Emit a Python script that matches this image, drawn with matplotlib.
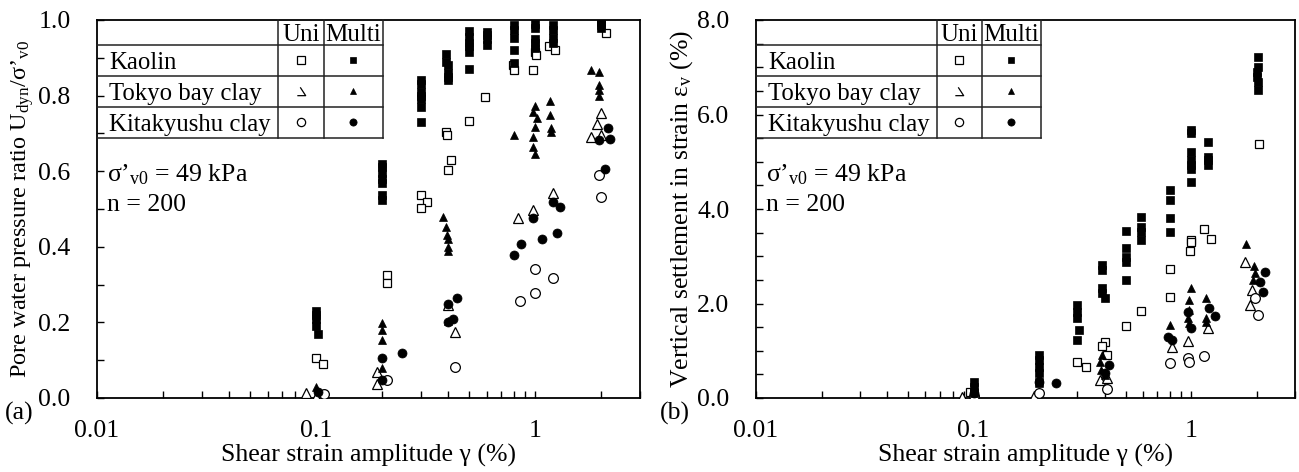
import matplotlib
matplotlib.use("Agg")
import matplotlib.pyplot as plt
from matplotlib.path import Path
from matplotlib.ticker import LogLocator, NullFormatter, FixedLocator, MultipleLocator

plt.rcParams['font.family'] = ['Liberation Serif', 'DejaVu Serif']
plt.rcParams['mathtext.fontset'] = 'custom'
plt.rcParams['mathtext.rm'] = 'Liberation Serif'
plt.rcParams['mathtext.it'] = 'Liberation Serif:italic'
FS = 18.5

# ---- (a) pore water pressure ratio ----
a_kao_multi_x = [0.1, 0.1, 0.1, 0.1, 0.102,
                 0.2, 0.2, 0.2, 0.2, 0.2, 0.2, 0.2,
                 0.3, 0.3, 0.3, 0.3, 0.3, 0.3, 0.3,
                 0.39, 0.39, 0.4, 0.4, 0.4, 0.4,
                 0.5, 0.5, 0.5, 0.5, 0.5, 0.5,
                 0.6, 0.6, 0.6, 0.6,
                 0.8, 0.8, 0.8, 0.8, 0.8,
                 1.0, 1.0, 1.0, 1.0, 1.0,
                 1.2, 1.2, 1.2, 1.2,
                 2.0, 2.0, 2.0, 2.0]
a_kao_multi_y = [0.23, 0.22, 0.21, 0.19, 0.17,
                 0.62, 0.61, 0.595, 0.58, 0.57, 0.537, 0.524,
                 0.84, 0.83, 0.81, 0.80, 0.79, 0.77, 0.73,
                 0.91, 0.89, 0.88, 0.86, 0.85, 0.84,
                 0.97, 0.955, 0.94, 0.93, 0.915, 0.87,
                 0.968, 0.96, 0.95, 0.934,
                 0.987, 0.974, 0.952, 0.92, 0.886,
                 0.99, 0.98, 0.95, 0.94, 0.926,
                 0.987, 0.974, 0.952, 0.94,
                 1.0, 0.995, 0.987, 0.98]
a_kao_uni_x = [0.1, 0.107, 0.21, 0.21, 0.3, 0.32, 0.3, 0.39, 0.395, 0.41, 0.4,
               0.5, 0.59, 0.79, 0.8, 0.98, 1.0, 1.01, 1.15, 1.23, 2.1]
a_kao_uni_y = [0.105, 0.09, 0.325, 0.304, 0.537, 0.518, 0.503, 0.704, 0.696, 0.63, 0.603,
               0.733, 0.796, 0.88, 0.868, 0.868, 0.915, 0.907, 0.93, 0.92, 0.965]
a_tok_multi_x = [0.1, 0.2, 0.2, 0.2, 0.2, 0.38, 0.39, 0.395, 0.4, 0.4, 0.4, 0.4,
                 0.8, 1.0, 0.98, 1.02, 1.0, 0.98, 0.98, 1.0,
                 1.17, 1.17, 1.18, 1.18, 1.8, 1.96, 1.96, 1.96, 1.96]
a_tok_multi_y = [0.03, 0.198, 0.18, 0.153, 0.079, 0.478, 0.452, 0.43, 0.42, 0.40, 0.39, 0.205,
                 0.696, 0.772, 0.757, 0.741, 0.717, 0.69, 0.664, 0.645,
                 0.786, 0.749, 0.714, 0.704, 0.868, 0.862, 0.828, 0.815, 0.80]
a_tok_uni_x = [0.09, 0.1, 0.19, 0.19, 0.4, 0.43, 0.83, 0.97, 1.2, 2.0, 1.9, 1.8, 2.0]
a_tok_uni_y = [0.013, 0.003, 0.068, 0.037, 0.245, 0.175, 0.476, 0.497, 0.542, 0.754, 0.725, 0.69, 0.696]
a_kit_multi_x = [0.102, 0.2, 0.2, 0.245, 0.4, 0.44, 0.42, 0.4, 0.8, 0.86, 0.97, 1.07,
                 1.2, 1.25, 1.29, 2.15, 1.96, 2.2, 2.07]
a_kit_multi_y = [0.016, 0.106, 0.048, 0.119, 0.25, 0.265, 0.21, 0.2, 0.378, 0.407, 0.476, 0.42,
                 0.518, 0.437, 0.505, 0.714, 0.683, 0.685, 0.606]
a_kit_uni_x = [0.109, 0.21, 0.43, 0.85, 1.0, 1.0, 1.2, 1.94, 2.0]
a_kit_uni_y = [0.01, 0.048, 0.082, 0.257, 0.278, 0.341, 0.318, 0.59, 0.532]

# ---- (b) vertical settlement ----
b_kao_multi_x = [0.1, 0.1, 0.1, 0.2, 0.2, 0.2, 0.2, 0.2,
                 0.3, 0.3, 0.3, 0.305, 0.3, 0.39, 0.39, 0.39, 0.39, 0.4,
                 0.5, 0.5, 0.5, 0.5, 0.5, 0.59, 0.59, 0.59, 0.59,
                 0.8, 0.8, 0.8, 0.8, 1.0, 1.0, 1.0, 1.0, 1.0, 1.0, 1.0,
                 1.2, 1.2, 1.2, 1.2, 2.02, 2.02, 2.0, 2.0, 2.02, 2.03]
b_kao_multi_y = [0.34, 0.23, 0.1, 0.91, 0.80, 0.66, 0.53, 0.34,
                 1.97, 1.82, 1.69, 1.44, 1.23, 2.81, 2.71, 2.33, 2.22, 2.12,
                 3.53, 3.17, 2.98, 2.88, 2.5, 3.83, 3.62, 3.51, 3.34,
                 4.4, 4.19, 3.81, 3.51, 5.67, 5.6, 5.2, 5.04, 4.93, 4.85, 4.57,
                 5.42, 5.1, 5.04, 4.93, 7.22, 7.0, 6.9, 6.79, 6.69, 6.52]
b_kao_uni_x = [0.096, 0.3, 0.33, 0.4, 0.39, 0.41, 0.5, 0.59, 0.8, 0.8, 1.0, 1.0, 0.99,
               1.15, 1.23, 2.04]
b_kao_uni_y = [0.13, 0.76, 0.66, 1.18, 1.1, 0.91, 1.52, 1.84, 2.73, 2.14, 3.34, 3.3, 3.11,
               3.58, 3.36, 5.38]
b_tok_multi_x = [0.1, 0.1, 0.2, 0.2, 0.39, 0.38, 0.385, 0.4, 0.8, 1.0, 0.98, 0.98, 0.97, 0.98,
                 1.17, 1.17, 1.17, 1.78, 1.94, 1.96, 1.92]
b_tok_multi_y = [0.28, 0.17, 0.44, 0.32, 0.91, 0.76, 0.59, 0.49, 1.55, 2.33, 2.07, 1.86, 1.69, 1.59,
                 2.12, 1.69, 1.61, 3.26, 2.79, 2.64, 2.5]
b_tok_uni_x = [0.088, 0.19, 0.38, 0.41, 0.82, 0.97, 1.2, 1.76, 1.9, 1.86]
b_tok_uni_y = [0.02, 0.04, 0.38, 0.42, 1.08, 1.21, 1.48, 2.88, 2.29, 1.97]
b_kit_multi_x = [0.1, 0.2, 0.24, 0.4, 0.42, 0.78, 0.82, 0.97, 1.0, 1.21, 1.29, 2.07, 2.13, 2.18]
b_kit_multi_y = [0.1, 0.34, 0.32, 0.53, 0.7, 1.29, 1.23, 1.82, 1.48, 1.9, 1.74, 2.45, 2.24, 2.67]
b_kit_uni_x = [0.1, 0.2, 0.41, 0.8, 0.97, 0.98, 1.15, 1.96, 2.02]
b_kit_uni_y = [0.04, 0.1, 0.19, 0.74, 0.85, 0.76, 0.89, 2.12, 1.76]

soils = ["Kaolin", "Tokyo bay clay", "Kitakyushu clay"]

# odd broken-triangle glyph used in the legend table
broken_tri = Path([(-0.15, 0.5), (0.5, -0.5), (-0.5, -0.5)],
                  [Path.MOVETO, Path.LINETO, Path.LINETO])

sty_uni = [dict(marker='s', ms=6.0, mfc='white', mec='k', mew=0.9),
           dict(marker='^', ms=7.0, mfc='white', mec='k', mew=0.9),
           dict(marker='o', ms=7.0, mfc='white', mec='k', mew=0.9)]
sty_multi = [dict(marker='s', ms=5.2, mfc='k', mec='k', mew=0.5),
             dict(marker='^', ms=6.2, mfc='k', mec='k', mew=0.5),
             dict(marker='o', ms=6.5, mfc='k', mec='k', mew=0.5)]

fig = plt.figure(figsize=(12.99, 4.72), dpi=100)
axa = fig.add_axes([97/1299, 74/472, 543/1299, 378/472])
axb = fig.add_axes([756/1299, 74/472, 539/1299, 378/472])


def draw_panel(ax, series, ymax, ystep, yminor, yfmt, ylabel, ylabel_fs, cols):
    for (ux, uy, mx, my), su, sm in zip(series, sty_uni, sty_multi):
        ax.plot(ux, uy, ls='none', zorder=3, **su)
        ax.plot(mx, my, ls='none', zorder=4, **sm)
    ax.set_xscale('log')
    ax.set_xlim(0.01, 3)
    ax.set_ylim(0, ymax)
    ax.xaxis.set_major_locator(FixedLocator([0.01, 0.1, 1]))
    ax.xaxis.set_major_formatter(plt.FixedFormatter(['0.01', '0.1', '1']))
    ax.xaxis.set_minor_locator(LogLocator(base=10, subs=range(2, 10)))
    ax.xaxis.set_minor_formatter(NullFormatter())
    ticks = [i * ystep for i in range(int(round(ymax / ystep)) + 1)]
    ax.yaxis.set_major_locator(FixedLocator(ticks))
    ax.yaxis.set_major_formatter(plt.FixedFormatter([yfmt % t for t in ticks]))
    ax.yaxis.set_minor_locator(MultipleLocator(yminor))
    ax.tick_params(which='both', direction='in', top=False, right=False,
                   labelsize=FS, length=5, width=1.0, colors='k')
    ax.tick_params(axis='x', pad=16)
    ax.tick_params(axis='y', pad=19)
    for s in ax.spines.values():
        s.set_linewidth(1.3)
    ax.set_xlabel("Shear strain amplitude γ (%)", fontsize=FS)
    ax.xaxis.set_label_coords(0.5, -0.122)
    ax.set_ylabel(ylabel, fontsize=ylabel_fs)
    ax.yaxis.set_label_coords(-0.113, 0.5)

    # legend table
    c1, c2, c3 = cols
    rows = [1.0, 0.934, 0.852, 0.770, 0.688]
    kw = dict(transform=ax.transAxes, color='#222222', lw=1.1, clip_on=False, zorder=5)
    for r in rows[1:]:
        ax.plot([0, c3], [r, r], **kw)
    for c in (c1, c2, c3):
        ax.plot([c, c], [rows[0], rows[-1]], **kw)
    ax.text((c1 + c2) / 2, (rows[0] + rows[1]) / 2, "Uni", transform=ax.transAxes,
            ha='center', va='center_baseline', fontsize=FS - 0.5)
    ax.text((c2 + c3) / 2, (rows[0] + rows[1]) / 2, "Multi", transform=ax.transAxes,
            ha='center', va='center_baseline', fontsize=FS - 0.5)
    for i, name in enumerate(soils):
        yc = (rows[i + 1] + rows[i + 2]) / 2
        ax.text(0.022, yc, name, transform=ax.transAxes, ha='left',
                va='center_baseline', fontsize=FS - 0.7)
        su = dict(sty_uni[i])
        sm = dict(sty_multi[i])
        su['ms'] = su['ms'] * 0.85
        sm['ms'] = sm['ms'] * 0.8
        if i == 1:
            su['marker'] = broken_tri
            su['ms'] = 6
        ax.plot([(c1 + c2) / 2], [yc], transform=ax.transAxes, ls='none',
                clip_on=False, zorder=6, **su)
        ax.plot([(c2 + c3) / 2], [yc], transform=ax.transAxes, ls='none',
                clip_on=False, zorder=6, **sm)

    ax.text(0.018, 0.598, "σ’$_{\\mathrm{v0}}$ = 49 kPa", transform=ax.transAxes,
            ha='left', va='center_baseline', fontsize=FS)
    ax.text(0.018, 0.516, "n = 200", transform=ax.transAxes,
            ha='left', va='center_baseline', fontsize=FS)


series_a = [(a_kao_uni_x, a_kao_uni_y, a_kao_multi_x, a_kao_multi_y),
            (a_tok_uni_x, a_tok_uni_y, a_tok_multi_x, a_tok_multi_y),
            (a_kit_uni_x, a_kit_uni_y, a_kit_multi_x, a_kit_multi_y)]
series_b = [(b_kao_uni_x, b_kao_uni_y, b_kao_multi_x, b_kao_multi_y),
            (b_tok_uni_x, b_tok_uni_y, b_tok_multi_x, b_tok_multi_y),
            (b_kit_uni_x, b_kit_uni_y, b_kit_multi_x, b_kit_multi_y)]

draw_panel(axa, series_a, 1.0, 0.2, 0.1, "%.1f",
           "Pore water pressure ratio U$_{\\mathrm{dyn}}$/σ’$_{\\mathrm{v0}}$", FS - 1.0,
           (0.3333, 0.418, 0.5267))
draw_panel(axb, series_b, 8.0, 2.0, 0.5, "%.1f",
           "Vertical settlement in strain ε$_{\\mathrm{v}}$ (%)", FS,
           (0.3358, 0.4184, 0.5288))

fig.text(0.004, 0.125, "(a)", fontsize=FS, va='center')
fig.text(0.508, 0.125, "(b)", fontsize=FS, va='center')

fig.savefig("out.png", dpi=100)
